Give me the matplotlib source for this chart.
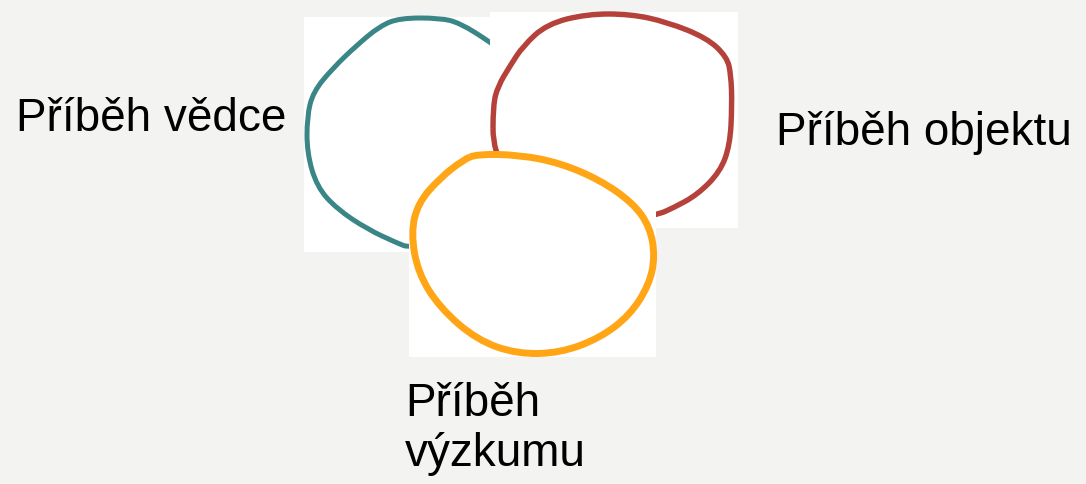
import numpy as np
import matplotlib.pyplot as plt
from matplotlib.patches import Rectangle, PathPatch
from matplotlib.path import Path

# canvas in pixels
W, H = 1086, 484
bg_color = '#f3f3f1'

# labels and their anchor (left, baseline of first line)
labels = ['Příběh vědce', 'Příběh objektu', 'Příběh\nvýzkumu']
label_x = [16, 776, 405]
label_y = [131, 145, 416]

# hand-drawn circle outlines (x, y in px)
teal_x = [490, 460, 440, 400, 380, 357, 333, 313, 307, 307, 317, 337, 367, 397, 410, 470, 510, 520, 500]
teal_y = [42, 23, 18, 18, 26, 45, 68, 92, 117, 153, 187, 209, 229, 243, 248, 240, 200, 130, 50]
red_x = [493, 498, 510, 523, 547, 587, 630, 667, 707, 727, 731, 732, 730, 720, 697, 673, 657, 600, 520, 493]
red_y = [105, 86, 66, 46, 24, 14, 14, 22, 38, 57, 75, 105, 145, 172, 195, 208, 215, 225, 200, 152]
orange_x = [477, 520, 560, 600, 633, 650, 655, 649, 630, 600, 560, 517, 477, 440, 418, 411, 418, 440, 463]
orange_y = [154, 155, 163, 180, 203, 227, 257, 285, 315, 338, 353, 354, 340, 308, 273, 233, 203, 178, 160]

# white image backgrounds behind each drawing (left, top, right, bottom)
teal_box = (304, 17, 495, 252)
red_box = (490, 12, 738, 228)
orange_box = (409, 152, 656, 357)


def smooth_loop(xs, ys):
    # closed quadratic curve through midpoints, read points act as controls
    pts = np.column_stack([xs, ys]).astype(float)
    n = len(pts)
    mids = (pts + np.roll(pts, -1, axis=0)) / 2
    verts = [mids[-1]]
    codes = [Path.MOVETO]
    for i in range(n):
        verts += [pts[i], mids[i]]
        codes += [Path.CURVE3, Path.CURVE3]
    return Path(verts, codes)


fig = plt.figure(figsize=(W / 100, H / 100), dpi=100)
fig.patch.set_facecolor(bg_color)
ax = fig.add_axes([0, 0, 1, 1])
ax.set_xlim(0, W)
ax.set_ylim(H, 0)
ax.axis('off')

layers = [
    (teal_box, teal_x, teal_y, '#3a8686', 3.6),
    (red_box, red_x, red_y, '#b5423a', 3.9),
    (orange_box, orange_x, orange_y, '#ffa516', 5.0),
]
z = 1
for box, xs, ys, col, lw in layers:
    l, t, r, b = box
    ax.add_patch(Rectangle((l, t), r - l, b - t, facecolor='white', edgecolor='none', zorder=z))
    ax.add_patch(PathPatch(smooth_loop(xs, ys), facecolor='none', edgecolor=col,
                           linewidth=lw, joinstyle='round', zorder=z + 1))
    z += 2

for txt, x, y in zip(labels, label_x, label_y):
    lines = txt.split('\n')
    for i, line in enumerate(lines):
        ax.text(x, y + 50 * i, line, fontsize=33, family='Liberation Sans',
                ha='left', va='baseline', color='black', zorder=10)

fig.savefig('out.png', dpi=100, facecolor=bg_color)
